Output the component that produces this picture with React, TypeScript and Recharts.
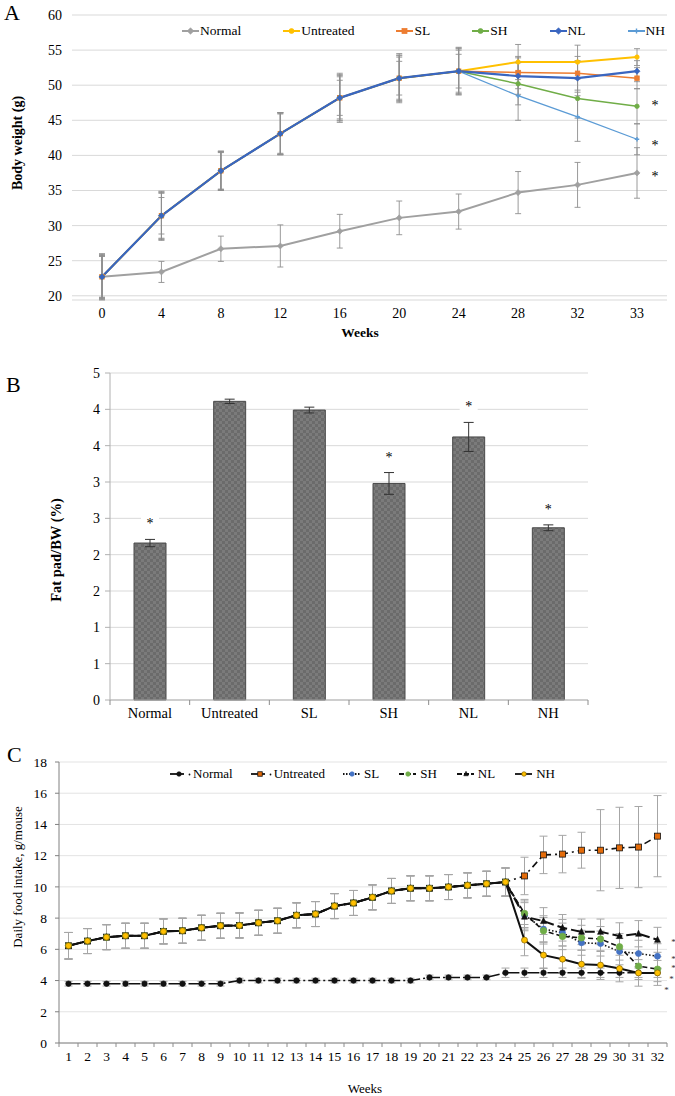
import React from "react";
import {
  LineChart,
  Line,
  BarChart,
  Bar,
  XAxis,
  YAxis,
  CartesianGrid,
  ErrorBar,
  Legend,
  LabelList,
} from "recharts";

const FONT = '"Liberation Serif", "Times New Roman", serif';

// ---------- A: body weight ----------
const bwWeeks = ["0", "4", "8", "12", "16", "20", "24", "28", "32", "33"];
const bwNormal = [22.7, 23.4, 26.7, 27.1, 29.2, 31.1, 32.0, 34.7, 35.8, 37.5];
const bwNormalErr = [3.0, 1.5, 1.8, 3.0, 2.4, 2.4, 2.5, 3.0, 3.2, 3.6];
const bwUntreated = [22.7, 31.4, 37.8, 43.1, 48.2, 51.0, 52.0, 53.3, 53.3, 54.0];
const bwUntreatedErr = [3.3, 3.5, 2.8, 3.0, 3.5, 3.5, 3.4, 2.5, 2.4, 1.2];
const bwSL = [22.7, 31.4, 37.8, 43.1, 48.2, 51.0, 52.0, 51.8, 51.7, 51.0];
const bwSLErr = [2.9, 2.6, 2.6, 2.8, 2.5, 2.4, 2.4, 2.3, 2.4, 1.5];
const bwSH = [22.7, 31.4, 37.8, 43.1, 48.2, 51.0, 52.0, 50.2, 48.1, 47.0];
const bwSHErr = [3.0, 3.2, 2.7, 2.9, 3.0, 3.0, 3.0, 3.0, 2.8, 2.5];
const bwNL = [22.7, 31.4, 37.8, 43.1, 48.2, 51.0, 52.0, 51.3, 51.0, 52.0];
const bwNLErr = [3.2, 3.4, 2.8, 3.0, 3.3, 3.3, 3.3, 2.6, 2.5, 1.5];
const bwNH = [22.7, 31.4, 37.8, 43.1, 48.2, 51.0, 52.0, 48.5, 45.5, 42.3];
const bwNHErr = [3.1, 3.3, 2.7, 3.0, 3.2, 3.2, 3.2, 3.5, 3.5, 2.2];
const bwSig = ["normal", "sh", "nh"];

// ---------- B: fat pad / BW ----------
const fpGroups = ["Normal", "Untreated", "SL", "SH", "NL", "NH"];
const fpValues = [2.16, 4.11, 3.99, 2.98, 3.62, 2.37];
const fpErr = [0.05, 0.03, 0.04, 0.15, 0.2, 0.04];
const fpSig = [true, false, false, true, true, true];
const fpTicks = [0, 0.5, 1, 1.5, 2, 2.5, 3, 3.5, 4, 4.5];

// ---------- C: daily food intake ----------
const fiWeeks = [
  "1", "2", "3", "4", "5", "6", "7", "8", "9", "10", "11", "12", "13", "14", "15", "16",
  "17", "18", "19", "20", "21", "22", "23", "24", "25", "26", "27", "28", "29", "30", "31", "32",
];
const fiNormal = [
  3.8, 3.8, 3.8, 3.8, 3.8, 3.8, 3.8, 3.8, 3.8, 4.0, 4.0, 4.0, 4.0, 4.0, 4.0, 4.0,
  4.0, 4.0, 4.0, 4.2, 4.2, 4.2, 4.2, 4.5, 4.5, 4.5, 4.5, 4.5, 4.5, 4.5, 4.5, 4.5,
];
const fiNormalErr = [
  0.15, 0.15, 0.15, 0.15, 0.15, 0.15, 0.15, 0.15, 0.15, 0.15, 0.15, 0.15, 0.15, 0.15, 0.15, 0.15,
  0.15, 0.15, 0.15, 0.15, 0.15, 0.15, 0.15, 0.3, 0.3, 0.3, 0.3, 0.3, 0.3, 0.3, 0.3, 0.3,
];
// weeks 1-24, all obese groups share the same diet
const fiObeseBase = [
  6.23, 6.53, 6.78, 6.87, 6.87, 7.15, 7.19, 7.38, 7.51, 7.53, 7.7, 7.83,
  8.18, 8.26, 8.77, 8.97, 9.33, 9.74, 9.91, 9.91, 9.99, 10.1, 10.2, 10.31,
];
const fiObeseBaseErr = [
  0.85, 0.8, 0.8, 0.8, 0.8, 0.8, 0.8, 0.8, 0.8, 0.8, 0.8, 0.8,
  0.8, 0.8, 0.8, 0.8, 0.8, 0.8, 0.8, 0.8, 0.8, 0.8, 0.8, 0.9,
];
// weeks 25-32
const fiUntreatedTail = [10.7, 12.05, 12.1, 12.35, 12.35, 12.5, 12.55, 13.25];
const fiUntreatedTailErr = [1.2, 1.2, 1.2, 1.15, 2.6, 2.6, 2.6, 2.6];
const fiSLTail = [8.2, 7.3, 7.06, 6.42, 6.37, 5.86, 5.73, 5.56];
const fiSLTailErr = [0.9, 0.85, 0.85, 0.8, 0.8, 0.85, 0.85, 0.8];
const fiSHTail = [8.3, 7.19, 6.83, 6.74, 6.66, 6.16, 4.92, 4.73];
const fiSHTailErr = [0.9, 0.85, 0.85, 0.8, 0.8, 0.85, 0.85, 0.8];
const fiNLTail = [8.09, 7.81, 7.38, 7.12, 7.12, 6.85, 7.0, 6.61];
const fiNLTailErr = [0.9, 0.86, 0.85, 0.82, 0.82, 0.85, 0.84, 0.8];
const fiNHTail = [6.59, 5.63, 5.37, 5.05, 4.99, 4.77, 4.49, 4.49];
const fiNHTailErr = [1.0, 0.85, 0.85, 0.9, 0.92, 0.85, 0.85, 0.8];

const fiUntreated = [...fiObeseBase, ...fiUntreatedTail];
const fiSL = [...fiObeseBase, ...fiSLTail];
const fiSH = [...fiObeseBase, ...fiSHTail];
const fiNL = [...fiObeseBase, ...fiNLTail];
const fiNH = [...fiObeseBase, ...fiNHTail];
const fiUntreatedErr = [...fiObeseBaseErr, ...fiUntreatedTailErr];
const fiSLErr = [...fiObeseBaseErr, ...fiSLTailErr];
const fiSHErr = [...fiObeseBaseErr, ...fiSHTailErr];
const fiNLErr = [...fiObeseBaseErr, ...fiNLTailErr];
const fiNHErr = [...fiObeseBaseErr, ...fiNHTailErr];

// star offsets next to last point of C (dx, dy)
const fiSig: Record<string, [number, number]> = {
  nl: [16, 1],
  sl: [16, 2],
  sh: [16, -2],
  nh: [14, 5],
  normal: [9, 16],
};

const bwRows = bwWeeks.map((week, i) => ({
  week,
  normal: bwNormal[i],
  normalErr: bwNormalErr[i],
  untreated: bwUntreated[i],
  untreatedErr: bwUntreatedErr[i],
  sl: bwSL[i],
  slErr: bwSLErr[i],
  sh: bwSH[i],
  shErr: bwSHErr[i],
  nl: bwNL[i],
  nlErr: bwNLErr[i],
  nh: bwNH[i],
  nhErr: bwNHErr[i],
}));

const fpRows = fpGroups.map((group, i) => ({ group, value: fpValues[i], err: fpErr[i] }));

const fiRows = fiWeeks.map((week, i) => ({
  week,
  normal: fiNormal[i],
  normalErr: fiNormalErr[i],
  untreated: fiUntreated[i],
  untreatedErr: fiUntreatedErr[i],
  sl: fiSL[i],
  slErr: fiSLErr[i],
  sh: fiSH[i],
  shErr: fiSHErr[i],
  nl: fiNL[i],
  nlErr: fiNLErr[i],
  nh: fiNH[i],
  nhErr: fiNHErr[i],
}));

type Shape = "circle" | "square" | "diamond" | "triangle" | "cross";

function markerEl(shape: Shape, cx: number, cy: number, size: number, fill: string, stroke: string, key?: any) {
  const h = size / 2;
  if (shape === "square")
    return <rect key={key} x={cx - h} y={cy - h} width={size} height={size} fill={fill} stroke={stroke} strokeWidth={0.8} />;
  if (shape === "diamond")
    return (
      <polygon key={key} points={`${cx},${cy - h - 0.8} ${cx + h + 0.8},${cy} ${cx},${cy + h + 0.8} ${cx - h - 0.8},${cy}`} fill={fill} stroke={stroke} strokeWidth={0.6} />
    );
  if (shape === "triangle")
    return <polygon key={key} points={`${cx},${cy - h - 0.5} ${cx + h},${cy + h - 0.5} ${cx - h},${cy + h - 0.5}`} fill={fill} stroke={stroke} strokeWidth={0.6} />;
  if (shape === "cross")
    return (
      <path key={key} d={`M${cx - h},${cy}L${cx + h},${cy}M${cx},${cy - h}L${cx},${cy + h}`} stroke={fill} strokeWidth={1.4} />
    );
  return <circle key={key} cx={cx} cy={cy} r={h} fill={fill} stroke={stroke} strokeWidth={0.7} />;
}

const makeDot = (shape: Shape, size: number, fill: string, stroke: string) => (p: any) => {
  if (p.cx == null || p.cy == null) return <g key={p.index} />;
  return markerEl(shape, p.cx, p.cy, size, fill, stroke, p.index);
};

const bwSeries = [
  { key: "normal", name: "Normal", color: "#a0a0a0", width: 2, shape: "diamond" as Shape },
  { key: "untreated", name: "Untreated", color: "#ffc000", width: 2, shape: "circle" as Shape },
  { key: "sl", name: "SL", color: "#ed7d31", width: 1.5, shape: "square" as Shape },
  { key: "sh", name: "SH", color: "#70ad47", width: 1.5, shape: "circle" as Shape },
  { key: "nl", name: "NL", color: "#3a66c0", width: 2.2, shape: "diamond" as Shape },
  { key: "nh", name: "NH", color: "#5b9bd5", width: 1.3, shape: "cross" as Shape },
];
// NL drawn last so it sits on top of the shared first half
const bwDrawOrder = ["normal", "untreated", "sl", "sh", "nh", "nl"];

const fiSeries = [
  { key: "normal", name: "Normal", dash: "12 3 2 3", width: 1.6, shape: "circle" as Shape, fill: "#111", stroke: "#111", size: 5.5, icon: 22 },
  { key: "untreated", name: "Untreated", dash: "7 4 2 4", width: 1.6, shape: "square" as Shape, fill: "#e46c0a", stroke: "#111", size: 6, icon: 22 },
  { key: "sl", name: "SL", dash: "1.5 2", width: 1.6, shape: "circle" as Shape, fill: "#4472c4", stroke: "#4472c4", size: 6, icon: 20 },
  { key: "sh", name: "SH", dash: "5 3", width: 1.6, shape: "circle" as Shape, fill: "#70ad47", stroke: "#70ad47", size: 6.5, icon: 20 },
  { key: "nl", name: "NL", dash: "10 4", width: 2, shape: "triangle" as Shape, fill: "#111", stroke: "#111", size: 6, icon: 20 },
  { key: "nh", name: "NH", dash: undefined, width: 2, shape: "circle" as Shape, fill: "#ffc000", stroke: "#7f6000", size: 6, icon: 20 },
];

const tickStyle = (fontSize: number) => ({ fontSize, fill: "#000", fontFamily: FONT });

function BandTick(props: any) {
  const { x, y, payload, index, visibleTicksCount, fontSize, halfBand, markLen } = props;
  const half = typeof payload?.offset === "number" && payload.offset > 0 ? payload.offset : halfBand;
  const axisY = y - 8;
  const last = index === visibleTicksCount - 1;
  return (
    <g>
      <line x1={x - half} x2={x - half} y1={axisY} y2={axisY + markLen} stroke="#8c8c8c" />
      {last && <line x1={x + half} x2={x + half} y1={axisY} y2={axisY + markLen} stroke="#8c8c8c" />}
      <text x={x} y={y} dy="0.71em" textAnchor="middle" fontSize={fontSize} fill="#000" fontFamily={FONT}>
        {payload.value}
      </text>
    </g>
  );
}

function LegendA() {
  return (
    <div style={{ display: "flex", alignItems: "center", fontFamily: FONT, fontSize: 13.5, color: "#000", whiteSpace: "nowrap" }}>
      {bwSeries.map((s) => (
        <div key={s.key} style={{ display: "flex", alignItems: "center", marginRight: 42 }}>
          <svg width={17} height={10} style={{ marginRight: 1 }}>
            <line x1={0} x2={17} y1={5} y2={5} stroke={s.color} strokeWidth={2} />
            {markerEl(s.shape, 8.5, 5, 5, s.color, s.color)}
          </svg>
          <span>{s.name}</span>
        </div>
      ))}
    </div>
  );
}

function LegendC() {
  return (
    <div style={{ display: "flex", alignItems: "center", fontFamily: FONT, fontSize: 13, color: "#000", whiteSpace: "nowrap" }}>
      {fiSeries.map((s) => (
        <div key={s.key} style={{ display: "flex", alignItems: "center", marginRight: s.icon === 22 ? 18 : 20 }}>
          <svg width={s.icon} height={10} style={{ marginRight: 1 }}>
            <line x1={0} x2={s.icon === 22 ? 14 : 17} y1={5} y2={5} stroke="#111" strokeWidth={1.8} strokeDasharray={s.key === "sl" ? "1.5 1.5" : s.key === "sh" || s.key === "nl" ? "5 2" : undefined} />
            {markerEl(s.shape, 9, 5, 4.5, s.fill, s.stroke)}
            {s.icon === 22 && <circle cx={19.5} cy={5.5} r={0.9} fill="#111" />}
          </svg>
          <span>{s.name}</span>
        </div>
      ))}
    </div>
  );
}

function Title({ x, y, size, bold, rotate, children }: any) {
  return (
    <div
      style={{
        position: "absolute",
        left: x,
        top: y,
        transform: `translate(-50%, -50%)${rotate ? " rotate(-90deg)" : ""}`,
        fontFamily: FONT,
        fontSize: size,
        fontWeight: bold ? 700 : 400,
        whiteSpace: "nowrap",
        lineHeight: 1,
        color: "#000",
      }}
    >
      {children}
    </div>
  );
}

function Letter({ x, y, children }: any) {
  return (
    <div style={{ position: "absolute", left: x, top: y, fontFamily: FONT, fontSize: 22, lineHeight: 1, color: "#000" }}>
      {children}
    </div>
  );
}

export default function App() {
  const byKey = (k: string) => bwSeries.find((s) => s.key === k)!;
  return (
    <div
      style={{
        position: "absolute",
        left: 0,
        top: 0,
        width: 675,
        height: 1096,
        background: "#fff",
        fontFamily: FONT,
        overflow: "hidden",
      }}
    >
      {/* ---------- A ---------- */}
      <div style={{ position: "absolute", left: 0, top: 0 }}>
        <LineChart width={675} height={340} data={bwRows} margin={{ top: 15, right: 8, left: 0, bottom: 10 }}>
          <CartesianGrid vertical={false} stroke="#d9d9d9" />
          <XAxis
            dataKey="week"
            axisLine={false}
            tickLine={false}
            height={30}
            interval={0}
            padding={{ left: 30, right: 30 }}
            tick={tickStyle(14)}
          />
          <YAxis
            domain={[20, 60]}
            ticks={[20, 25, 30, 35, 40, 45, 50, 55, 60]}
            axisLine={false}
            tickLine={false}
            width={72}
            tickMargin={4}
            tick={tickStyle(14)}
          />
          <Legend verticalAlign="middle" align="center" content={() => <LegendA />} wrapperStyle={{ top: 23, left: 182, width: 490 }} />
          {bwDrawOrder.map((k) => {
            const s = byKey(k);
            return (
              <Line
                key={k}
                dataKey={k}
                name={s.name}
                stroke={s.color}
                strokeWidth={s.width}
                dot={makeDot(s.shape, 4.5, s.color, s.color)}
                activeDot={false}
                isAnimationActive={false}
              >
                <ErrorBar dataKey={`${k}Err`} width={3} stroke="#8f8f8f" strokeWidth={0.9} direction="y" isAnimationActive={false} />
                {bwSig.includes(k) && (
                  <LabelList
                    dataKey={k}
                    content={(p: any) =>
                      p.index === bwWeeks.length - 1 ? (
                        <text
                          x={p.x + 18}
                          y={p.y + (k === "sh" ? 4 : k === "nh" ? 11 : 8)}
                          textAnchor="middle"
                          fontSize={14}
                          fill="#000"
                          fontFamily={FONT}
                        >
                          *
                        </text>
                      ) : null
                    }
                  />
                )}
              </Line>
            );
          })}
        </LineChart>
      </div>
      <Letter x={4} y={2}>A</Letter>
      <Title x={18} y={143} size={14} bold rotate>
        Body weight (g)
      </Title>
      <Title x={360} y={333} size={13.5} bold>
        Weeks
      </Title>

      {/* ---------- B ---------- */}
      <div style={{ position: "absolute", left: 0, top: 340 }}>
        <BarChart width={675} height={390} data={fpRows} margin={{ top: 33, right: 87, left: 0, bottom: 0 }}>
          <defs>
            <pattern id="chk" width={6} height={6} patternUnits="userSpaceOnUse">
              <rect width={6} height={6} fill="#6b6b6b" />
              <rect width={3} height={3} fill="#7b7b7b" />
              <rect x={3} y={3} width={3} height={3} fill="#7b7b7b" />
            </pattern>
          </defs>
          <CartesianGrid vertical={false} stroke="#d9d9d9" />
          <XAxis
            dataKey="group"
            height={30}
            axisLine={{ stroke: "#b0b0b0" }}
            tickLine={false}
            interval={0}
            tick={(p: any) => <BandTick {...p} fontSize={14.5} halfBand={39.8} markLen={5} />}
          />
          <YAxis
            domain={[0, 4.5]}
            ticks={fpTicks}
            width={110}
            tickSize={5}
            tickMargin={5}
            axisLine={{ stroke: "#b0b0b0" }}
            tickLine={{ stroke: "#b0b0b0" }}
            tickFormatter={(v: number) => String(Math.round(v))}
            tick={tickStyle(14)}
          />
          <Bar dataKey="value" barSize={32} fill="url(#chk)" stroke="#4a4a4a" strokeWidth={1} isAnimationActive={false}>
            <ErrorBar dataKey="err" width={5} stroke="#333" strokeWidth={1} direction="y" isAnimationActive={false} />
            <LabelList
              dataKey="value"
              content={(p: any) => {
                const vb = p.viewBox ?? p;
                const i = p.index;
                if (!fpSig[i]) return null;
                const errPx = (vb.height * fpErr[i]) / fpValues[i];
                const cx = vb.x + vb.width / 2;
                const cy = vb.y - errPx - 18;
                return (
                  <g>
                    <rect x={cx - 9} y={cy - 7} width={18} height={14} fill="#fff" />
                    <text x={cx} y={cy + 7} textAnchor="middle" fontSize={14} fill="#000" fontFamily={FONT}>
                      *
                    </text>
                  </g>
                );
              }}
            />
          </Bar>
        </BarChart>
      </div>
      <Letter x={6} y={374}>B</Letter>
      <Title x={56} y={550} size={14.5} bold rotate>
        Fat pad/BW (%)
      </Title>

      {/* ---------- C ---------- */}
      <div style={{ position: "absolute", left: 0, top: 745 }}>
        <LineChart width={675} height={351} data={fiRows} margin={{ top: 17, right: 8, left: 0, bottom: 23 }}>
          <CartesianGrid vertical={false} stroke="#e3e3e3" />
          <XAxis
            dataKey="week"
            height={30}
            axisLine={{ stroke: "#808080" }}
            tickLine={false}
            interval={0}
            padding={{ left: 9.5, right: 9.5 }}
            tick={(p: any) => <BandTick {...p} fontSize={13.5} halfBand={9.5} markLen={4} />}
          />
          <YAxis
            domain={[0, 18]}
            ticks={[0, 2, 4, 6, 8, 10, 12, 14, 16, 18]}
            width={59}
            tickSize={4}
            tickMargin={8}
            axisLine={{ stroke: "#808080" }}
            tickLine={{ stroke: "#808080" }}
            tick={tickStyle(13.5)}
          />
          <Legend verticalAlign="middle" align="center" content={() => <LegendC />} wrapperStyle={{ top: 21, left: 170, width: 480 }} />
          {fiSeries.map((s) => (
            <Line
              key={s.key}
              dataKey={s.key}
              name={s.name}
              stroke="#111"
              strokeWidth={s.width}
              strokeDasharray={s.dash}
              dot={makeDot(s.shape, s.size, s.fill, s.stroke)}
              activeDot={false}
              isAnimationActive={false}
            >
              <ErrorBar dataKey={`${s.key}Err`} width={4} stroke="#a6a6a6" strokeWidth={1} direction="y" isAnimationActive={false} />
              <LabelList
                dataKey={s.key}
                content={(p: any) =>
                  p.index === fiWeeks.length - 1 && fiSig[s.key] ? (
                    <text
                      x={p.x + fiSig[s.key][0]}
                      y={p.y + fiSig[s.key][1] + 4}
                      textAnchor="middle"
                      fontSize={9}
                      fill="#333"
                      fontFamily={FONT}
                    >
                      *
                    </text>
                  ) : null
                }
              />
            </Line>
          ))}
        </LineChart>
      </div>
      <Letter x={7} y={744}>C</Letter>
      <Title x={17} y={877} size={13} rotate>
        Daily food intake, g/mouse
      </Title>
      <Title x={365} y={1088} size={13}>
        Weeks
      </Title>
    </div>
  );
}
